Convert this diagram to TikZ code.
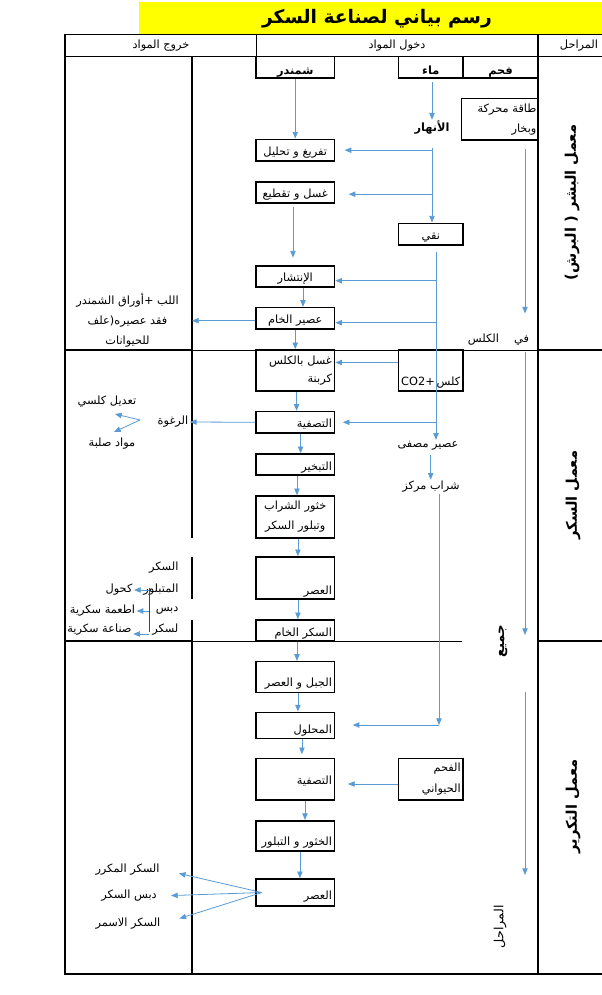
\documentclass[tikz,border=0pt]{standalone}
\usepackage{fontspec}
\setmainfont{DejaVu Sans}
\newfontfamily\arabicfont[Script=Arabic]{DejaVu Sans}
\usetikzlibrary{arrows.meta,positioning,calc}
\TeXXeTstate=1
\definecolor{flowblue}{RGB}{91,155,213}
\definecolor{busnavy}{RGB}{47,70,125}
\definecolor{titlebar}{RGB}{255,255,0}
\newcommand{\ar}[1]{\beginR #1\endR}

\begin{document}
\begin{tikzpicture}[
  x=0.75pt, y=-0.75pt,
  every node/.style={font=\arabicfont\fontsize{8.5}{10}\selectfont, inner sep=1pt},
  box/.style={draw, line width=1.2pt, minimum width=58.9pt, text width=55pt,
    align=right, inner sep=1.5pt},
  sidebox/.style={box, minimum width=48.4pt, text width=45pt},
  low/.style={text height=#1, text depth=0pt},
  strong/.style={font=\arabicfont\bfseries\fontsize{8.5}{10}\selectfont},
  head/.style={font=\arabicfont\fontsize{8.5}{10}\selectfont},
  stage/.style={font=\arabicfont\bfseries\fontsize{11}{13}\selectfont, rotate=90},
  grid/.style={line width=1.1pt},
  thin grid/.style={line width=0.6pt},
  flow/.style={-{Triangle[length=5pt,width=4pt]}, line width=0.6pt, draw=flowblue},
  bus/.style={line width=0.6pt, draw=busnavy}
]

\useasboundingbox (0,0) rectangle (602,995);
\fill[white] (0,0) rectangle (602,995);

% Title bar.
\fill[titlebar] (139,2) rectangle (602,34.5);
\node[font=\arabicfont\bfseries\fontsize{14}{17}\selectfont] (title) at (377,19)
  {\ar{رسم بياني لصناعة السكر}};

% Table frame and header.
\draw[thin grid] (65,34.5) -- (602,34.5);
\draw[thin grid] (256,34.5) -- (256,56.7);
\draw[grid] (65,56.7) -- (602,56.7);
\draw[grid] (65,34.5) -- (65,974) -- (602,974);
\draw[grid] (538,34.5) -- (538,974);
\draw[grid] (192,56.7) -- (192,538);
\draw[grid] (192,557) -- (192,599);
\draw[grid] (192,620) -- (192,974);
\draw[grid] (65,350) -- (192,350) (538,350) -- (602,350);
\draw[thin grid] (192,350) -- (538,350);
\draw[grid] (65,641) -- (192,641) (538,641) -- (602,641);
\draw[thin grid] (192,641) -- (462,641);

\node[head] (outHead) at (161,46) {\ar{خروج المواد}};
\node[head] (inHead) at (397,46) {\ar{دخول المواد}};
\node[head] (stageHead) at (579,46) {\ar{المراحل}};

% Stages.
\node[stage] (stageOne) at (572,202.5) {\ar{معمل البشر ( البرش)}};
\node[stage] (stageTwo) at (573,495) {\ar{معمل السكر}};
\node[stage] (stageThree) at (573,806.5) {\ar{معمل التكرير}};

% Raw inputs.
\node[box, strong, low=9.8pt, minimum height=16.2pt, align=center] (shamandar) at (295.25,67.5) {\ar{شمندر}};
\node[sidebox, strong, low=9.8pt, minimum height=16.2pt, align=center] (maa) at (430.75,67.5) {\ar{ماء}};
\node[box, strong, low=9.8pt, minimum width=56.25pt, text width=52pt, minimum height=16.2pt, align=center]
  (fahm) at (500.5,67.5) {\ar{فحم}};
\node[box, minimum width=57.4pt, text width=55pt, minimum height=31pt, inner sep=0.5pt,
  font=\arabicfont\fontsize{8.5}{15}\selectfont] (taqa) at (499.75,119.3)
  {\ar{طاقة محركة}\\\ar{وبخار}};
\node[strong] (anhar) at (432,128) {\ar{الأنهار}};

% Beet stage.
\node[box, low=8.5pt, minimum height=16.3pt, align=center] (tafrigh) at (295.25,150.2) {\ar{تفريغ و تحليل}};
\node[box, low=8.5pt, minimum height=15.75pt, align=center] (ghasl) at (295.25,192.2) {\ar{غسل و تقطيع}};
\node[sidebox, low=8.5pt, minimum height=16.3pt, align=center] (naqi) at (430.75,234.2) {\ar{نقي}};
\node[box, low=8.5pt, minimum height=15.75pt, align=center] (intishar) at (295.25,276.2) {\ar{الإنتشار}};
\node[box, low=8.5pt, minimum height=16pt, align=center] (asirKham) at (295.25,318.3) {\ar{عصير الخام}};
\node[align=center, font=\arabicfont\fontsize{8.5}{15}\selectfont] (lubb) at (127.5,320.7)
  {\ar{اللب +أوراق الشمندر}\\\ar{فقد عصيره(علف}\\\ar{للحيوانات}};
\node (kalsLbl) at (483.5,340) {\ar{الكلس}};
\node (fi) at (521.5,340) {\ar{في}};

% Sugar stage.
\node[box, minimum height=30.75pt, font=\arabicfont\fontsize{8.5}{13}\selectfont]
  (kals) at (295.25,370.5) {\ar{غسل بالكلس}\\\ar{كربنة}};
\node[sidebox, low=22.8pt, minimum height=30.75pt, align=center]
  (kalsCO) at (430.75,370.5) {\ar{كلس\,\beginL CO2+\endL}};
\node[box, low=8.5pt, minimum height=16.1pt] (tasfiyaOne) at (295.25,422.3) {\ar{التصفية}};
\node (rughwa) at (173,422) {\ar{الرغوة}};
\node (taadil) at (107,402) {\ar{تعديل كلسي}};
\node (mawad) at (112,444) {\ar{مواد صلبة}};
\node (asirMusaffa) at (428,446) {\ar{عصير مصفى}};
\node[box, low=8.5pt, minimum height=15.75pt] (tabkhir) at (295.25,464.5) {\ar{التبخير}};
\node (sharab) at (431,487) {\ar{شراب مركز}};
\node[box, minimum height=31.5pt, align=center, font=\arabicfont\fontsize{8.5}{15}\selectfont]
  (khuthur) at (295.25,517) {\ar{خثور الشراب}\\\ar{وتبلور السكر}};
\node[box, low=25pt, minimum height=31.5pt] (asrOne) at (295.25,578) {\ar{العصر}};
\node[box, low=8.5pt, minimum height=15.75pt] (sukkarKham) at (295.25,630.5) {\ar{السكر الخام}};
\node[anchor=east, align=right, font=\arabicfont\fontsize{8.5}{16.5}\selectfont]
  (mutabalwir) at (180,579) {\ar{السكر}\\\ar{المتبلور}};
\node[anchor=east] (dibs) at (180,611) {\ar{دبس}};
\node[anchor=east] (lsukkar) at (180,630) {\ar{لسكر}};
\node (kuhul) at (119,590) {\ar{كحول}};
\node (atima) at (102.5,611) {\ar{اطعمة سكرية}};
\node (sinaa) at (99.5,630) {\ar{صناعة سكرية}};
\node[font=\arabicfont\bfseries\fontsize{10}{12}\selectfont, rotate=90] (jamia) at (503,641) {\ar{جميع}};

% Refining stage.
\node[box, low=14.6pt, minimum height=23pt] (jabl) at (295.25,677) {\ar{الجبل و العصر}};
\node[box, low=11.6pt, minimum height=19.5pt] (mahlul) at (295.25,725.3) {\ar{المحلول}};
\node[box, low=8.5pt, minimum height=31.3pt] (tasfiyaTwo) at (295.25,779.2) {\ar{التصفية}};
\node[sidebox, minimum height=31.3pt, font=\arabicfont\fontsize{8.5}{15.75}\selectfont]
  (fahmHayawani) at (430.75,779.2) {\ar{الفحم}\\\ar{الحيواني}};
\node[box, low=14.7pt, minimum height=22.7pt] (khuthurTwo) at (295.25,835.9) {\ar{الخثور و التبلور}};
\node[box, low=10.8pt, minimum height=20.25pt] (asrTwo) at (295.25,892.5) {\ar{العصر}};
\node (mukarrar) at (127.5,869.3) {\ar{السكر المكرر}};
\node (dibsSukkar) at (129,896) {\ar{دبس السكر}};
\node (asmar) at (128,924) {\ar{السكر الاسمر}};
\node[font=\arabicfont\fontsize{9.5}{11}\selectfont, rotate=90] (marahil) at (500,926.7) {\ar{المراحل}};

% Rails and turning points.
\coordinate (rail) at (525,0);
\coordinate (juiceRail) at (436,0);
\coordinate (syrupTurn) at (439,725);
\coordinate (foamSplit) at (140,420);
\coordinate (toCalc) at (115,414);
\coordinate (toSolid) at (114,432);
\coordinate (busTop) at (149,588);
\coordinate (busBot) at (149,632);

% Main beet line.
\draw[flow] (shamandar.south) -- (tafrigh.north);
\draw[flow, shorten <=2.5pt, shorten >=5.5pt] ([xshift=-1.7pt]ghasl.south) -- ([xshift=-1.7pt]intishar.north);
\draw[flow] ([xshift=5.8pt]intishar.south) -- ([xshift=5.8pt]asirKham.north);
\draw[flow] (asirKham.south) -- (kals.north);
\draw[flow] ([yshift=-1.8pt]asirKham.west) -- ([yshift=-1.8pt]asirKham.west -| 192,0);

% Water.
\draw[flow, shorten <=2.5pt] (anhar.north |- maa.south) -- (anhar.north);
\draw[flow, shorten <=9pt] (anhar.south) -- (anhar.south |- naqi.north);
\draw[flow, shorten >=7pt] (anhar.south |- tafrigh.east) -- (tafrigh.east);
\draw[flow, shorten >=10pt] ([yshift=-1.5pt]anhar.south |- ghasl.east) -- ([yshift=-1.5pt]ghasl.east);
\draw[flow, shorten <=4.5pt] (naqi.south -| juiceRail) -- (asirMusaffa.north -| juiceRail);
\draw[flow] ([yshift=-3.4pt]intishar.east -| juiceRail) -- ([yshift=-3.4pt]intishar.east);
\draw[flow] ([yshift=-3.3pt]asirKham.east -| juiceRail) -- ([yshift=-3.3pt]asirKham.east);
\draw[flow, shorten >=5.6pt] (tasfiyaOne.east -| juiceRail) -- (tasfiyaOne.east);

% Energy and lime, in all stages.
\draw[flow, shorten <=6.2pt, shorten >=15pt] (taqa.south -| rail) -- (fi.north -| rail);
\draw[flow, shorten <=4pt, shorten >=4.5pt] (fi.south -| rail) -- (jamia.center -| rail);
\draw[flow, shorten <=38pt, shorten >=38.8pt] (jamia.center -| rail) -- (marahil.center -| rail);

% Sugar stage.
\draw[flow] ([yshift=6pt]kalsCO.west) -- ([yshift=6pt]kals.east);
\draw[flow] ([xshift=1pt]kals.south) -- ([xshift=1pt]tasfiyaOne.north);
\draw[flow] (tasfiyaOne.west) -- (rughwa.east);
\draw[flow] (foamSplit) -- (toCalc);
\draw[flow] (foamSplit) -- (toSolid);
\draw[flow] ([xshift=4pt]tasfiyaOne.south) -- ([xshift=4pt]tabkhir.north);
\draw[flow, shorten <=2pt] ([xshift=2pt]asirMusaffa.south) -- ([xshift=2pt]asirMusaffa.south |- sharab.north);
\draw[flow] ([xshift=1.3pt]tabkhir.south) -- ([xshift=1.3pt]khuthur.north);
\draw[flow] ([xshift=2pt]khuthur.south) -- ([xshift=2pt]asrOne.north);
\draw[flow] ([xshift=2pt]asrOne.south) -- ([xshift=2pt]sukkarKham.north);
\draw[bus] (busTop) -- (busBot);
\draw[flow] (busTop |- kuhul.east) -- (kuhul.east);
\draw[flow] (busTop |- atima.east) -- (atima.east);
\draw[flow] ([yshift=-3pt]busTop |- sinaa.east) -- ([yshift=-3pt]sinaa.east);

% Refining stage.
\draw[flow] ([xshift=1.3pt]sukkarKham.south) -- ([xshift=1.3pt]jabl.north);
\draw[flow] ([xshift=2pt]jabl.south) -- ([xshift=2pt]mahlul.north);
\draw[flow] (sharab.south -| syrupTurn) -- (syrupTurn);
\draw[flow, shorten >=13pt] (syrupTurn) -- (syrupTurn -| mahlul.east);
\draw[flow, shorten >=2.5pt] ([xshift=5pt]mahlul.south) -- ([xshift=5pt]tasfiyaTwo.north);
\draw[flow, shorten >=9.5pt] ([yshift=-3.6pt]fahmHayawani.west) -- ([yshift=-3.6pt]tasfiyaTwo.east);
\draw[flow] ([xshift=7.3pt]tasfiyaTwo.south) -- ([xshift=7.3pt]khuthurTwo.north);
\draw[flow] ([xshift=3.5pt]khuthurTwo.south) -- ([xshift=3.5pt]asrTwo.north);
\draw[flow, shorten >=13.7pt] ([xshift=5pt]asrTwo.west) -- (mukarrar.east);
\draw[flow, shorten >=9.5pt] ([xshift=5pt]asrTwo.west) -- (dibsSukkar.east);
\draw[flow, shorten >=13.7pt] ([xshift=5pt]asrTwo.west) -- (asmar.east);

\end{tikzpicture}
\end{document}
